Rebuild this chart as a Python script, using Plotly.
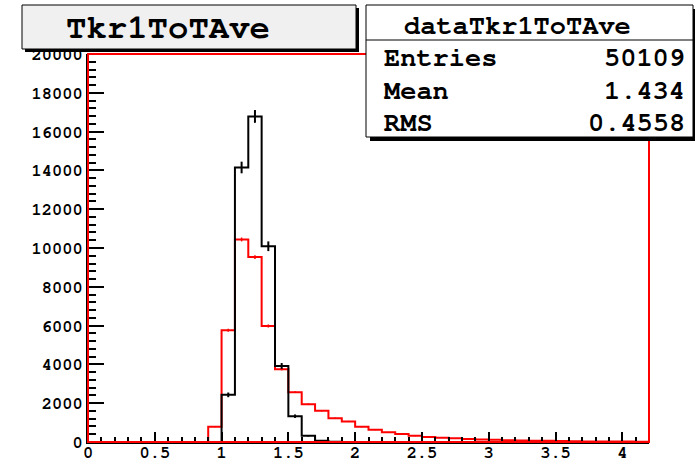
import plotly.graph_objects as go

# ---------------- data ----------------
bin_lo = 0.0
bin_width = 0.1
n_bins = 42

red_counts = [0, 0, 0, 0, 0, 0, 0, 0, 0, 790,
              5760, 10440, 9530, 5980, 3750, 2570, 1950, 1610, 1230, 1060,
              790, 630, 500, 410, 320, 260, 220, 190, 150, 130,
              110, 90, 80, 70, 60, 50, 40, 30, 30, 20,
              20, 15]
red_err = [0, 0, 0, 0, 0, 0, 0, 0, 0, 30,
           80, 100, 100, 80, 60, 50, 45, 40, 35, 33,
           28, 25, 22, 20, 18, 16, 15, 14, 12, 11,
           10, 9, 9, 8, 8, 7, 6, 5, 5, 4,
           4, 4]
black_counts = [0, 0, 0, 0, 0, 0, 0, 0, 0, 0,
                2430, 14150, 16780, 10090, 3920, 1330, 320, 70, 15, 0,
                0, 0, 0, 0, 0, 0, 0, 0, 0, 0,
                0, 0, 0, 0, 0, 0, 0, 0, 0, 0,
                0, 0]
black_err = [0, 0, 0, 0, 0, 0, 0, 0, 0, 0,
             120, 300, 330, 250, 150, 90, 40, 20, 10, 0,
             0, 0, 0, 0, 0, 0, 0, 0, 0, 0,
             0, 0, 0, 0, 0, 0, 0, 0, 0, 0,
             0, 0]

x_tick_vals = [0, 0.5, 1, 1.5, 2, 2.5, 3, 3.5, 4]
x_tick_text = ["0", "0.5", "1", "1.5", "2", "2.5", "3", "3.5", "4"]
y_tick_vals = list(range(0, 20001, 2000))
y_tick_text = [str(v) for v in y_tick_vals]

title_text = "Tkr1ToTAve"
stats_name = "dataTkr1ToTAve"
stats_labels = ["Entries", "Mean", "RMS"]
stats_values = ["50109", "1.434", "0.4558"]

# ---------------- geometry ----------------
W, H = 695, 462
L, R, T, B = 88, 649, 54, 442
FONT = "Nimbus Mono PS, FreeMono, Courier, Courier New, monospace"


def px(x):
    return (x - L) / (R - L)


def py(y):
    return (B - y) / (B - T)


edges = [bin_lo + i * bin_width for i in range(n_bins + 1)]
centers = [bin_lo + (i + 0.5) * bin_width for i in range(n_bins)]


def step_xy(counts, first, last):
    xs = [edges[first]]
    ys = [0]
    for i in range(first, last + 1):
        xs.append(edges[i])
        ys.append(counts[i])
    xs.append(edges[last + 1])
    ys.append(0)
    return xs, ys


fig = go.Figure()

rx, ry = step_xy(red_counts, 0, n_bins - 1)
fig.add_trace(go.Scatter(x=rx, y=ry, mode="lines", line=dict(color="red", width=2, shape="hv"),
                         showlegend=False, hoverinfo="skip", cliponaxis=False))
nz_r = [i for i, v in enumerate(red_counts) if v > 0]
fig.add_trace(go.Scatter(x=[centers[i] for i in nz_r], y=[red_counts[i] for i in nz_r], mode="markers",
                         marker=dict(size=0.1, color="red"),
                         error_y=dict(type="data", array=[red_err[i] for i in nz_r], color="red",
                                      thickness=1.5, width=0),
                         showlegend=False, hoverinfo="skip"))

nz_b = [i for i, v in enumerate(black_counts) if v > 0]
bx, by = step_xy(black_counts, nz_b[0], nz_b[-1])
fig.add_trace(go.Scatter(x=bx, y=by, mode="lines", line=dict(color="black", width=2, shape="hv"),
                         showlegend=False, hoverinfo="skip", cliponaxis=False))
fig.add_trace(go.Scatter(x=[centers[i] for i in nz_b], y=[black_counts[i] for i in nz_b], mode="markers",
                         marker=dict(size=0.1, color="black"),
                         error_y=dict(type="data", array=[black_err[i] for i in nz_b], color="black",
                                      thickness=2, width=0),
                         showlegend=False, hoverinfo="skip"))

shapes = []
# plot frame (red)
shapes.append(dict(type="rect", xref="paper", yref="paper", x0=0, x1=1, y0=0, y1=1,
                   line=dict(color="red", width=2), layer="above"))
# title box with shadow
shapes.append(dict(type="rect", xref="paper", yref="paper", x0=px(25), x1=px(359), y0=py(52), y1=py(8),
                   fillcolor="black", line=dict(color="black", width=0), layer="above"))
shapes.append(dict(type="rect", xref="paper", yref="paper", x0=px(22), x1=px(356), y0=py(49), y1=py(5),
                   fillcolor="#f0f0f0", line=dict(color="black", width=1), layer="above"))
# stats box with shadow
shapes.append(dict(type="rect", xref="paper", yref="paper", x0=px(370), x1=px(697), y0=py(141), y1=py(9),
                   fillcolor="black", line=dict(color="black", width=0), layer="above"))
shapes.append(dict(type="rect", xref="paper", yref="paper", x0=px(366), x1=px(693), y0=py(137), y1=py(5),
                   fillcolor="white", line=dict(color="black", width=1), layer="above"))
shapes.append(dict(type="line", xref="paper", yref="paper", x0=px(366), x1=px(693), y0=py(40), y1=py(40),
                   line=dict(color="black", width=1), layer="above"))

annotations = []
annotations.append(dict(text=title_text, xref="paper", yref="paper", x=px(168), y=py(28),
                        xanchor="center", yanchor="middle", showarrow=False,
                        font=dict(family=FONT, size=34, color="black", weight="bold")))
annotations.append(dict(text=stats_name, xref="paper", yref="paper", x=px(517), y=py(25),
                        xanchor="center", yanchor="middle", showarrow=False,
                        font=dict(family=FONT, size=27, color="black", weight="bold")))
row_y = [58, 90, 122]
for lab, val, yy in zip(stats_labels, stats_values, row_y):
    annotations.append(dict(text=lab, xref="paper", yref="paper", x=px(382), y=py(yy),
                            xanchor="left", yanchor="middle", showarrow=False,
                            font=dict(family=FONT, size=27, color="black", weight="bold")))
    annotations.append(dict(text=val, xref="paper", yref="paper", x=px(687), y=py(yy),
                            xanchor="right", yanchor="middle", showarrow=False,
                            font=dict(family=FONT, size=27, color="black", weight="bold")))

fig.update_layout(
    width=W, height=H,
    margin=dict(l=L, r=W - R, t=T, b=H - B, pad=0, autoexpand=False),
    paper_bgcolor="white", plot_bgcolor="white",
    shapes=shapes, annotations=annotations,
    showlegend=False,
)
fig.update_xaxes(range=[0, 4.2], showgrid=False, zeroline=False, automargin=False,
                 showline=True, linecolor="black", linewidth=2,
                 ticks="inside", ticklen=10, tickwidth=2, tickcolor="black",
                 tickvals=x_tick_vals, ticktext=x_tick_text, ticklabelstandoff=-6,
                 minor=dict(dtick=0.1, tick0=0, ticks="inside", ticklen=5, tickwidth=2, tickcolor="black"),
                 tickfont=dict(family=FONT, size=17, color="black", weight="bold"))
fig.update_yaxes(range=[0, 20000], showgrid=False, zeroline=False, automargin=False,
                 showline=True, linecolor="black", linewidth=2,
                 ticks="inside", ticklen=16, tickwidth=2, tickcolor="black",
                 tickvals=y_tick_vals, ticktext=y_tick_text,
                 minor=dict(dtick=400, tick0=0, ticks="inside", ticklen=8, tickwidth=2, tickcolor="black"),
                 tickfont=dict(family=FONT, size=17, color="black", weight="bold"))

fig.write_html("out.html")
